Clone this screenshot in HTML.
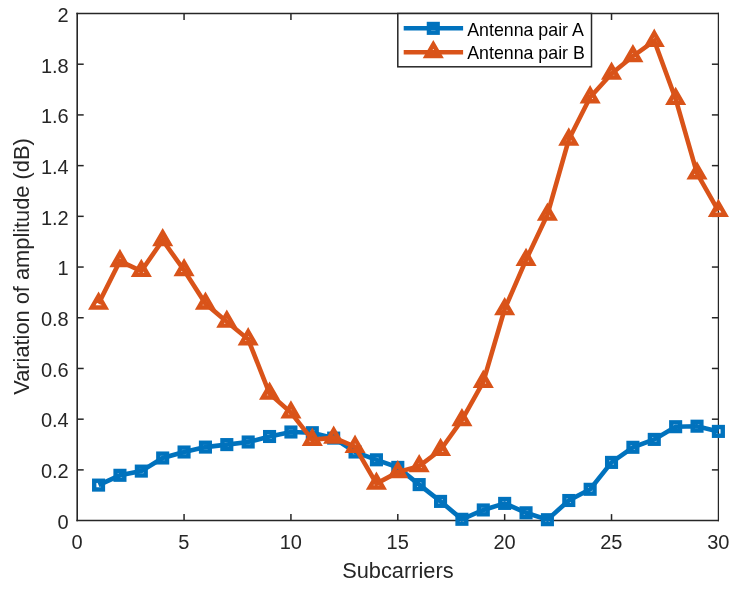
<!DOCTYPE html>
<html lang="en"><head><meta charset="utf-8"><title>Variation of amplitude vs Subcarriers</title>
<style>html,body{margin:0;padding:0;background:#fff;}body{width:737px;height:589px;overflow:hidden;}svg{display:block;}text{font-family:"Liberation Sans",Arial,Helvetica,sans-serif;fill:#262626;}</style></head><body>
<svg width="737" height="589" viewBox="0 0 737 589">
<rect x="0" y="0" width="737" height="589" fill="#ffffff"/>
<g stroke="#262626" stroke-width="1.5" fill="none" stroke-linecap="butt">
<line x1="77.20" y1="12.80" x2="77.20" y2="521.35" stroke-width="1.6"/>
<line x1="76.40" y1="520.60" x2="719.00" y2="520.60" stroke-width="1.5"/>
<line x1="76.40" y1="13.50" x2="719.00" y2="13.50" stroke-width="1.35"/>
<line x1="718.40" y1="12.80" x2="718.40" y2="521.35" stroke-width="1.25"/>
<line x1="184.07" y1="520.60" x2="184.07" y2="514.10"/>
<line x1="184.07" y1="13.50" x2="184.07" y2="20.00"/>
<line x1="290.93" y1="520.60" x2="290.93" y2="514.10"/>
<line x1="290.93" y1="13.50" x2="290.93" y2="20.00"/>
<line x1="397.80" y1="520.60" x2="397.80" y2="514.10"/>
<line x1="397.80" y1="13.50" x2="397.80" y2="20.00"/>
<line x1="504.67" y1="520.60" x2="504.67" y2="514.10"/>
<line x1="504.67" y1="13.50" x2="504.67" y2="20.00"/>
<line x1="611.53" y1="520.60" x2="611.53" y2="514.10"/>
<line x1="611.53" y1="13.50" x2="611.53" y2="20.00"/>
<line x1="77.20" y1="469.89" x2="83.70" y2="469.89"/>
<line x1="718.40" y1="469.89" x2="711.90" y2="469.89"/>
<line x1="77.20" y1="419.18" x2="83.70" y2="419.18"/>
<line x1="718.40" y1="419.18" x2="711.90" y2="419.18"/>
<line x1="77.20" y1="368.47" x2="83.70" y2="368.47"/>
<line x1="718.40" y1="368.47" x2="711.90" y2="368.47"/>
<line x1="77.20" y1="317.76" x2="83.70" y2="317.76"/>
<line x1="718.40" y1="317.76" x2="711.90" y2="317.76"/>
<line x1="77.20" y1="267.05" x2="83.70" y2="267.05"/>
<line x1="718.40" y1="267.05" x2="711.90" y2="267.05"/>
<line x1="77.20" y1="216.34" x2="83.70" y2="216.34"/>
<line x1="718.40" y1="216.34" x2="711.90" y2="216.34"/>
<line x1="77.20" y1="165.63" x2="83.70" y2="165.63"/>
<line x1="718.40" y1="165.63" x2="711.90" y2="165.63"/>
<line x1="77.20" y1="114.92" x2="83.70" y2="114.92"/>
<line x1="718.40" y1="114.92" x2="711.90" y2="114.92"/>
<line x1="77.20" y1="64.21" x2="83.70" y2="64.21"/>
<line x1="718.40" y1="64.21" x2="711.90" y2="64.21"/>
</g>
<g font-size="20">
<text x="77.05" y="548.70" text-anchor="middle">0</text>
<text x="183.92" y="548.70" text-anchor="middle">5</text>
<text x="290.78" y="548.70" text-anchor="middle">10</text>
<text x="397.65" y="548.70" text-anchor="middle">15</text>
<text x="504.52" y="548.70" text-anchor="middle">20</text>
<text x="611.38" y="548.70" text-anchor="middle">25</text>
<text x="718.25" y="548.70" text-anchor="middle">30</text>
<text x="68.70" y="528.90" text-anchor="end">0</text>
<text x="68.70" y="478.19" text-anchor="end">0.2</text>
<text x="68.70" y="427.48" text-anchor="end">0.4</text>
<text x="68.70" y="376.77" text-anchor="end">0.6</text>
<text x="68.70" y="326.06" text-anchor="end">0.8</text>
<text x="68.70" y="275.35" text-anchor="end">1</text>
<text x="68.70" y="224.64" text-anchor="end">1.2</text>
<text x="68.70" y="173.93" text-anchor="end">1.4</text>
<text x="68.70" y="123.22" text-anchor="end">1.6</text>
<text x="68.70" y="72.51" text-anchor="end">1.8</text>
<text x="68.70" y="21.80" text-anchor="end">2</text>
</g>
<text x="397.90" y="577.50" font-size="21.8" text-anchor="middle">Subcarriers</text>
<text transform="translate(29.30,266.50) rotate(-90)" font-size="21.8" text-anchor="middle">Variation of amplitude (dB)</text>
<polyline points="98.57,485.10 119.95,475.30 141.32,471.10 162.69,458.00 184.07,452.00 205.44,447.10 226.81,444.60 248.19,442.00 269.56,436.50 290.93,432.00 312.31,432.70 333.68,438.10 355.05,452.00 376.43,459.80 397.80,467.40 419.17,484.60 440.55,501.40 461.92,519.30 483.29,509.95 504.67,503.40 526.04,512.80 547.41,519.70 568.79,500.50 590.16,489.30 611.53,462.40 632.91,447.30 654.28,439.40 675.65,426.70 697.03,426.20 718.40,431.40" fill="none" stroke="#0072BD" stroke-width="4.6" stroke-linejoin="miter" stroke-linecap="butt"/>
<g fill="none" stroke="#0072BD" stroke-width="4.4" stroke-linejoin="miter">
<rect x="94.22" y="480.75" width="8.70" height="8.70"/>
<rect x="115.60" y="470.95" width="8.70" height="8.70"/>
<rect x="136.97" y="466.75" width="8.70" height="8.70"/>
<rect x="158.34" y="453.65" width="8.70" height="8.70"/>
<rect x="179.72" y="447.65" width="8.70" height="8.70"/>
<rect x="201.09" y="442.75" width="8.70" height="8.70"/>
<rect x="222.46" y="440.25" width="8.70" height="8.70"/>
<rect x="243.84" y="437.65" width="8.70" height="8.70"/>
<rect x="265.21" y="432.15" width="8.70" height="8.70"/>
<rect x="286.58" y="427.65" width="8.70" height="8.70"/>
<rect x="307.96" y="428.35" width="8.70" height="8.70"/>
<rect x="329.33" y="433.75" width="8.70" height="8.70"/>
<rect x="350.70" y="447.65" width="8.70" height="8.70"/>
<rect x="372.08" y="455.45" width="8.70" height="8.70"/>
<rect x="393.45" y="463.05" width="8.70" height="8.70"/>
<rect x="414.82" y="480.25" width="8.70" height="8.70"/>
<rect x="436.20" y="497.05" width="8.70" height="8.70"/>
<rect x="457.57" y="514.95" width="8.70" height="8.70"/>
<rect x="478.94" y="505.60" width="8.70" height="8.70"/>
<rect x="500.32" y="499.05" width="8.70" height="8.70"/>
<rect x="521.69" y="508.45" width="8.70" height="8.70"/>
<rect x="543.06" y="515.35" width="8.70" height="8.70"/>
<rect x="564.44" y="496.15" width="8.70" height="8.70"/>
<rect x="585.81" y="484.95" width="8.70" height="8.70"/>
<rect x="607.18" y="458.05" width="8.70" height="8.70"/>
<rect x="628.56" y="442.95" width="8.70" height="8.70"/>
<rect x="649.93" y="435.05" width="8.70" height="8.70"/>
<rect x="671.30" y="422.35" width="8.70" height="8.70"/>
<rect x="692.68" y="421.85" width="8.70" height="8.70"/>
<rect x="714.05" y="427.05" width="8.70" height="8.70"/>
</g>
<polyline points="98.57,303.60 119.95,261.05 141.32,271.00 162.69,240.20 184.07,270.25 205.44,303.60 226.81,321.70 248.19,339.30 269.56,393.65 290.93,412.50 312.31,439.80 333.68,437.60 355.05,446.80 376.43,483.60 397.80,472.10 419.17,466.10 440.55,450.00 461.92,420.10 483.29,381.80 504.67,309.10 526.04,259.90 547.41,214.70 568.79,139.55 590.16,97.30 611.53,73.65 632.91,56.25 654.28,40.80 675.65,98.97 697.03,173.35 718.40,210.85" fill="none" stroke="#D95319" stroke-width="4.6" stroke-linejoin="miter" stroke-linecap="butt"/>
<g fill="none" stroke="#D95319" stroke-width="4.4" stroke-linejoin="miter" stroke-miterlimit="10">
<path d="M98.57 295.80L105.33 307.50L91.82 307.50Z"/>
<path d="M119.95 253.25L126.70 264.95L113.19 264.95Z"/>
<path d="M141.32 263.20L148.07 274.90L134.57 274.90Z"/>
<path d="M162.69 232.40L169.45 244.10L155.94 244.10Z"/>
<path d="M184.07 262.45L190.82 274.15L177.31 274.15Z"/>
<path d="M205.44 295.80L212.19 307.50L198.69 307.50Z"/>
<path d="M226.81 313.90L233.57 325.60L220.06 325.60Z"/>
<path d="M248.19 331.50L254.94 343.20L241.43 343.20Z"/>
<path d="M269.56 385.85L276.31 397.55L262.81 397.55Z"/>
<path d="M290.93 404.70L297.69 416.40L284.18 416.40Z"/>
<path d="M312.31 432.00L319.06 443.70L305.55 443.70Z"/>
<path d="M333.68 429.80L340.43 441.50L326.93 441.50Z"/>
<path d="M355.05 439.00L361.81 450.70L348.30 450.70Z"/>
<path d="M376.43 475.80L383.18 487.50L369.67 487.50Z"/>
<path d="M397.80 464.30L404.55 476.00L391.05 476.00Z"/>
<path d="M419.17 458.30L425.93 470.00L412.42 470.00Z"/>
<path d="M440.55 442.20L447.30 453.90L433.79 453.90Z"/>
<path d="M461.92 412.30L468.67 424.00L455.17 424.00Z"/>
<path d="M483.29 374.00L490.05 385.70L476.54 385.70Z"/>
<path d="M504.67 301.30L511.42 313.00L497.91 313.00Z"/>
<path d="M526.04 252.10L532.79 263.80L519.29 263.80Z"/>
<path d="M547.41 206.90L554.17 218.60L540.66 218.60Z"/>
<path d="M568.79 131.75L575.54 143.45L562.03 143.45Z"/>
<path d="M590.16 89.50L596.91 101.20L583.41 101.20Z"/>
<path d="M611.53 65.85L618.29 77.55L604.78 77.55Z"/>
<path d="M632.91 48.45L639.66 60.15L626.15 60.15Z"/>
<path d="M654.28 33.00L661.03 44.70L647.53 44.70Z"/>
<path d="M675.65 91.17L682.41 102.87L668.90 102.87Z"/>
<path d="M697.03 165.55L703.78 177.25L690.27 177.25Z"/>
<path d="M718.40 203.05L725.15 214.75L711.65 214.75Z"/>
</g>
<rect x="397.80" y="13.50" width="193.70" height="53.30" fill="#ffffff" stroke="#262626" stroke-width="1.5"/>
<line x1="403.7" y1="28.25" x2="463.1" y2="28.25" stroke="#0072BD" stroke-width="4.4"/>
<rect x="428.95" y="24.00" width="8.70" height="8.70" fill="none" stroke="#0072BD" stroke-width="4.4"/>
<line x1="403.7" y1="52.2" x2="463.1" y2="52.2" stroke="#D95319" stroke-width="4.4"/>
<path d="M433.30 44.35L440.05 56.05L426.55 56.05Z" fill="none" stroke="#D95319" stroke-width="4.4" stroke-linejoin="miter" stroke-miterlimit="10"/>
<g font-size="17.8" style="fill:#000"><text x="467.2" y="35.5" style="fill:#000">Antenna pair A</text><text x="467.2" y="59.4" style="fill:#000">Antenna pair B</text></g>
</svg></body></html>
